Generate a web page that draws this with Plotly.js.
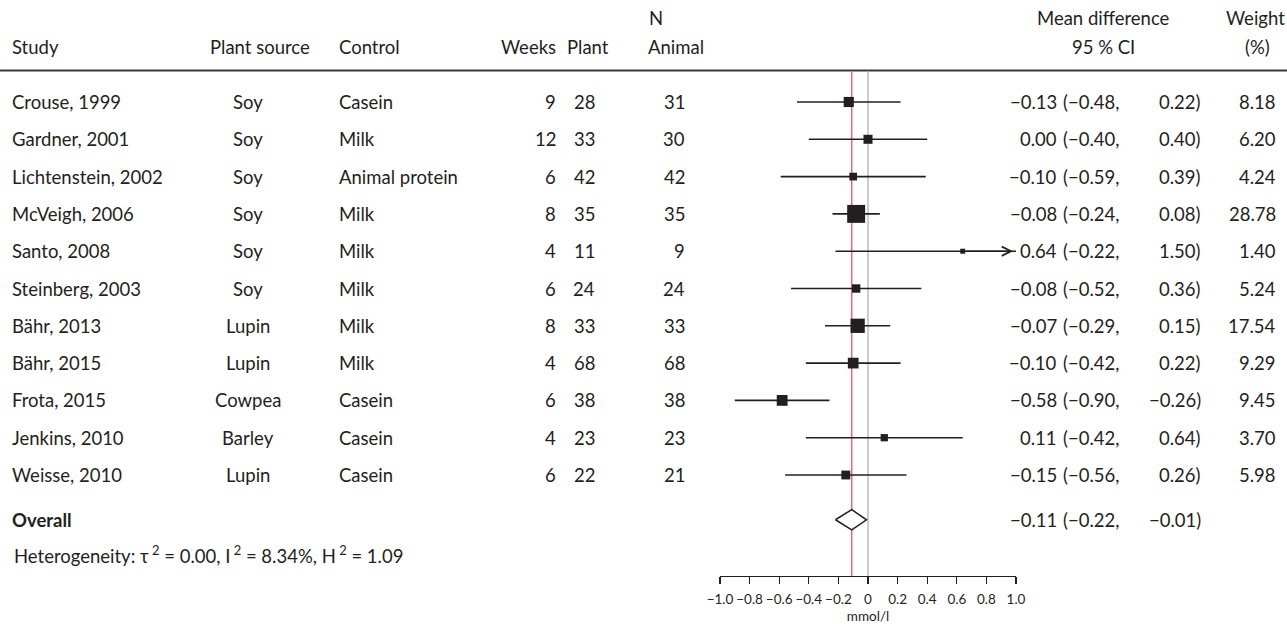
<!DOCTYPE html>
<html>
<head>
<meta charset="utf-8">
<script src="https://cdn.plot.ly/plotly-3.0.1.min.js"></script>
<style>html,body{margin:0;padding:0;background:#fff;}#plot{width:1287px;height:624px;}</style>
</head>
<body>
<div id="plot"></div>
<script>
// ---- data ----
const studies = ["Crouse, 1999","Gardner, 2001","Lichtenstein, 2002","McVeigh, 2006","Santo, 2008","Steinberg, 2003","Bähr, 2013","Bähr, 2015","Frota, 2015","Jenkins, 2010","Weisse, 2010"];
const plantSource = ["Soy","Soy","Soy","Soy","Soy","Soy","Lupin","Lupin","Cowpea","Barley","Lupin"];
const control = ["Casein","Milk","Animal protein","Milk","Milk","Milk","Milk","Milk","Casein","Casein","Casein"];
const weeks = [9,12,6,8,4,6,8,4,6,4,6];
const nPlant = [28,33,42,35,11,24,33,68,38,23,22];
const nAnimal = [31,30,42,35,9,24,33,68,38,23,21];
const meanDiff = [-0.13,0.00,-0.10,-0.08,0.64,-0.08,-0.07,-0.10,-0.58,0.11,-0.15];
const ciLow = [-0.48,-0.40,-0.59,-0.24,-0.22,-0.52,-0.29,-0.42,-0.90,-0.42,-0.56];
const ciHigh = [0.22,0.40,0.39,0.08,1.50,0.36,0.15,0.22,-0.26,0.64,0.26];
const weight = [8.18,6.20,4.24,28.78,1.40,5.24,17.54,9.29,9.45,3.70,5.98];
const overall = {md:-0.11, lo:-0.22, hi:-0.01};
const heterogeneity = "Heterogeneity: τ<sup> 2</sup> = 0.00, I<sup> 2</sup> = 8.34%, H<sup> 2</sup> = 1.09";
const xTicks = [-1.0,-0.8,-0.6,-0.4,-0.2,0,0.2,0.4,0.6,0.8,1.0];
const xTickText = ["−1.0","−0.8","−0.6","−0.4","−0.2","0","0.2","0.4","0.6","0.8","1.0"];

// ---- layout helpers ----
const W = 1287, H = 624;
const FONT = "Lato, 'Open Sans', sans-serif";
const TXT = "#231f20";
const FS = 18.5;
const PAD = 2;
const px = v => v / W;
const py = v => 1 - v / H;
const fmt = v => (v < 0 ? "−" : "") + Math.abs(v).toFixed(2);
const overallRow = 11.2, hetRow = 12.12;
const AXIS_MIN = -1, AXIS_MAX = 1;

const traces = [];
const annotations = [];
const shapes = [];

function adj(x, anchor) { return anchor === "left" ? x - PAD : anchor === "right" ? x + PAD : x; }
function txt(text, x, y, anchor, size) {
  annotations.push({
    text: text, x: px(adj(x, anchor)), xref: "paper", y: y, yref: "y",
    xanchor: anchor, yanchor: "middle", showarrow: false,
    font: {family: FONT, size: size || FS, color: TXT}
  });
}
function htxt(text, x, ypix, anchor) {
  annotations.push({
    text: text, x: px(adj(x, anchor)), xref: "paper", y: py(ypix), yref: "paper",
    xanchor: anchor, yanchor: "middle", showarrow: false,
    font: {family: FONT, size: FS, color: TXT}
  });
}

// headers
htxt("N", 656, 18, "center");
htxt("Mean difference", 1103, 18, "center");
htxt("Weight", 1255, 18, "center");
htxt("Study", 12, 47, "left");
htxt("Plant source", 210, 47, "left");
htxt("Control", 339, 47, "left");
htxt("Weeks", 556, 47, "right");
htxt("Plant", 609, 47, "right");
htxt("Animal", 704, 47, "right");
htxt("95 % CI", 1103, 47, "center");
htxt("(%)", 1257, 47, "center");

shapes.push({type:"line", layer:"below", xref:"paper", yref:"paper", x0:0, x1:1, y0:py(70.5), y1:py(70.5), line:{color:"#3a3a3a", width:2}});
// reference lines
shapes.push({type:"line", layer:"below", xref:"x", yref:"paper", x0:0, x1:0, y0:py(576), y1:py(71.5), line:{color:"#bdbdbd", width:1.5}});
shapes.push({type:"line", layer:"below", xref:"x", yref:"paper", x0:overall.md, x1:overall.md, y0:py(576), y1:py(71.5), line:{color:"#e5677b", width:1.5}});

studies.forEach((s, i) => {
  txt(s, 12, i, "left");
  txt(plantSource[i], 248, i, "center");
  txt(control[i], 339, i, "left");
  txt(String(weeks[i]), 556, i, "right");
  txt(String(nPlant[i]), 595, i, "right");
  txt(String(nAnimal[i]), 685, i, "right");
  txt(fmt(meanDiff[i]), 1057, i, "right");
  txt("(" + fmt(ciLow[i]) + ",", 1063, i, "left");
  txt(fmt(ciHigh[i]) + ")", 1201, i, "right");
  txt(weight[i].toFixed(2), 1276, i, "right");

  const hiClip = Math.min(ciHigh[i], AXIS_MAX);
  const loClip = Math.max(ciLow[i], AXIS_MIN);
  traces.push({x:[loClip, hiClip], y:[i, i], mode:"lines", line:{color:"#231f20", width:1.6}, hoverinfo:"skip", showlegend:false, cliponaxis:false});
  if (ciHigh[i] > AXIS_MAX) {
    annotations.push({x: AXIS_MAX - 0.02, y: i, xref:"x", yref:"y", ax: meanDiff[i], ay: i, axref:"x", ayref:"y",
      showarrow:true, arrowhead:5, arrowsize:1.3, arrowwidth:1.4, arrowcolor:"#231f20", text:" "});
  }
});

// squares
traces.push({
  x: meanDiff, y: studies.map((_, i) => i), mode: "markers", type: "scatter",
  marker: {symbol: "square", color: "#231f20", opacity: 1, size: weight.map(w => 1.3 + 3.1 * Math.sqrt(w)), line:{width:0}},
  hoverinfo: "skip", showlegend: false, cliponaxis: false
});

// overall
txt("<b>Overall</b>", 12, overallRow, "left");
txt(fmt(overall.md), 1057, overallRow, "right");
txt("(" + fmt(overall.lo) + ",", 1063, overallRow, "left");
txt(fmt(overall.hi) + ")", 1201, overallRow, "right");
const dh = 0.27;
traces.push({
  x: [overall.lo, overall.md, overall.hi, overall.md, overall.lo],
  y: [overallRow, overallRow - dh, overallRow, overallRow + dh, overallRow],
  mode: "lines", fill: "toself", fillcolor: "#ffffff", line: {color: "#231f20", width: 1.5},
  hoverinfo: "skip", showlegend: false, cliponaxis: false
});
txt(heterogeneity, 14, hetRow, "left");

// y mapping: pixel = 102 + 37.3*row, domain top 0px bottom 576px
const yTop = (0 - 102) / 37.3, yBot = (576 - 102) / 37.3;

const layout = {
  width: W, height: H,
  margin: {l:0, r:0, t:0, b:0, autoexpand:false},
  paper_bgcolor: "#fff", plot_bgcolor: "rgba(0,0,0,0)",
  showlegend: false,
  xaxis: {
    domain: [px(720), px(1016)], range: [AXIS_MIN, AXIS_MAX], anchor: "y",
    showline: true, linecolor: "#231f20", linewidth: 1.3, zeroline: false, showgrid: false,
    ticks: "outside", ticklen: 7, tickwidth: 1.3, tickcolor: "#231f20",
    tickvals: xTicks, ticktext: xTickText, automargin: false, ticklabelstandoff: 3,
    tickfont: {family: FONT, size: 13.5, color: TXT},
    title: {text: "mmol/l", font: {family: FONT, size: 13.5, color: TXT}, standoff: 6}
  },
  yaxis: {
    domain: [py(576), 1], range: [yBot, yTop], visible: false, fixedrange: true, automargin: false
  },
  shapes: shapes,
  annotations: annotations
};

Plotly.newPlot("plot", traces, layout, {staticPlot: true, displayModeBar: false});
</script>
</body>
</html>
